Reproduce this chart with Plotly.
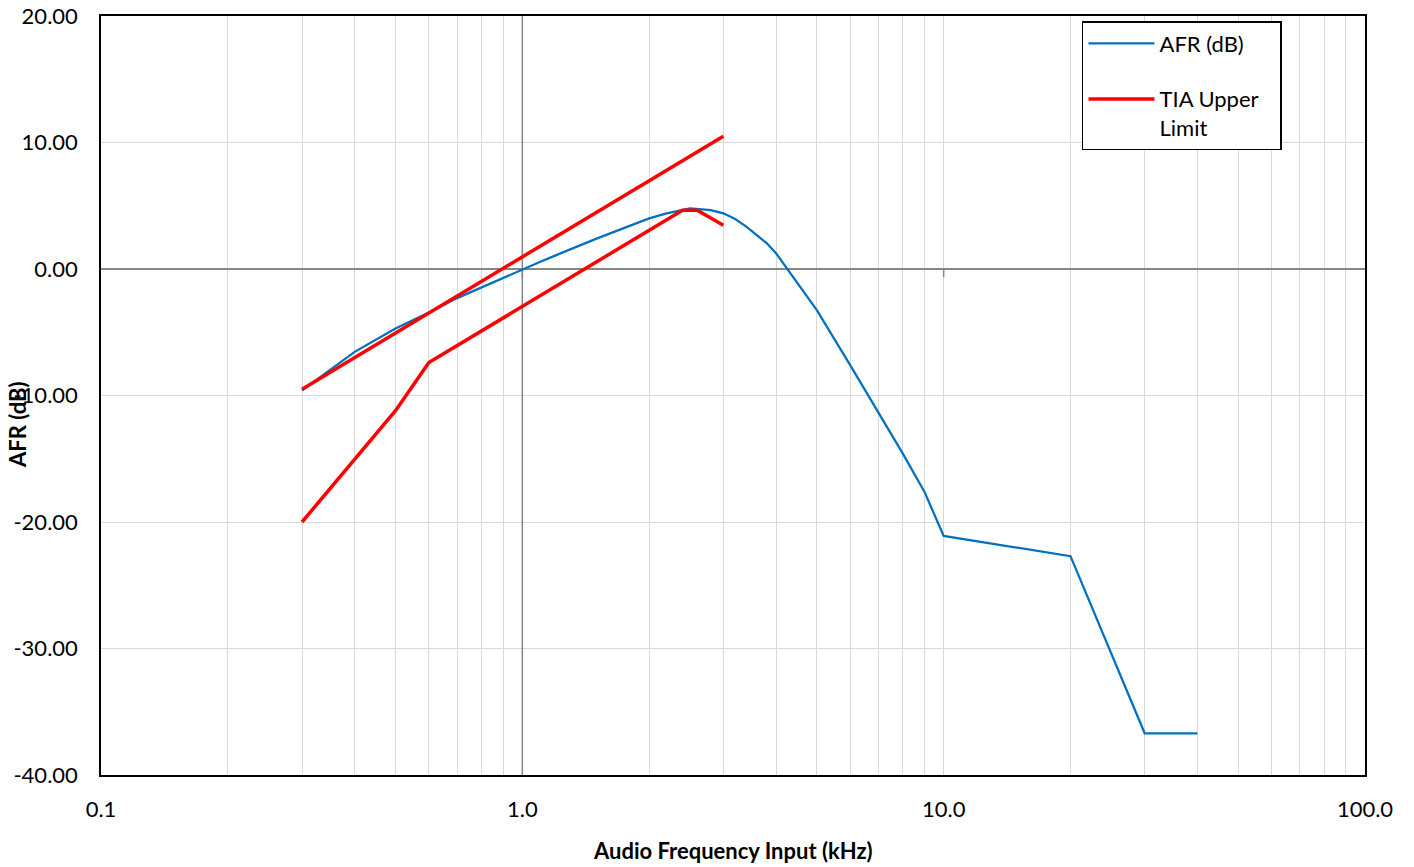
import plotly.graph_objects as go

# ---- data ----
afr_freq = [0.3, 0.4, 0.5, 0.6, 0.7, 0.8, 0.9, 1.0, 1.1, 1.2, 1.5, 2.0, 2.2, 2.5, 2.8, 3.0,
            3.2, 3.4, 3.6, 3.8, 4.0, 5.0, 6.0, 7.0, 8.0, 9.0, 10.0, 20.0, 30.0, 40.0]
afr_db = [-9.6, -6.55, -4.7, -3.45, -2.3, -1.45, -0.7, 0.0, 0.55, 1.08, 2.4, 4.0, 4.4, 4.8, 4.65, 4.4,
          3.95, 3.35, 2.7, 2.05, 1.25, -3.25, -7.6, -11.35, -14.6, -17.6, -21.1, -22.7, -36.7, -36.7]

tia_upper_freq = [0.3, 3.0]
tia_upper_db = [-9.5, 10.5]

tia_lower_freq = [0.3, 0.5, 0.6, 2.4, 2.6, 3.0]
tia_lower_db = [-20.0, -11.2, -7.4, 4.65, 4.65, 3.45]

x_major = [0.1, 1.0, 10.0, 100.0]
x_major_text = ["0.1", "1.0", "10.0", "100.0"]
x_minor = [0.2, 0.3, 0.4, 0.5, 0.6, 0.7, 0.8, 0.9,
           2, 3, 4, 5, 6, 7, 8, 9,
           20, 30, 40, 50, 60, 70, 80, 90]
y_ticks = [20, 10, 0, -10, -20, -30, -40]
y_tick_text = ["20.00", "10.00", "0.00", "-10.00", "-20.00", "-30.00", "-40.00"]

FONT = "Lato"
BLUE = "#0070C0"
RED = "#FF0000"
AXGRAY = "#868686"
GRID = "#D9D9D9"
PAD = "\u00a0" * 3

fig = go.Figure()
fig.add_trace(go.Scatter(x=afr_freq, y=afr_db, mode="lines", name="AFR (dB)",
                         line=dict(color=BLUE, width=2.25), legendgroup="a"))
fig.add_trace(go.Scatter(x=tia_upper_freq, y=tia_upper_db, mode="lines",
                         name="TIA Upper" + PAD + "<br>Limit",
                         line=dict(color=RED, width=3.5), legendgroup="b"))
fig.add_trace(go.Scatter(x=tia_lower_freq, y=tia_lower_db, mode="lines",
                         name="TIA Lower Limit", showlegend=False,
                         line=dict(color=RED, width=3.5), legendgroup="b"))

shapes = []
# vertical value axis crossing at x = 1.0
shapes.append(dict(type="line", xref="x", yref="y", x0=1.0, x1=1.0, y0=y_ticks[-1], y1=y_ticks[0],
                   line=dict(color=AXGRAY, width=1.5), layer="between"))
for yv in y_ticks[1:-1]:
    shapes.append(dict(type="line", xref="x", yref="y", xsizemode="pixel", xanchor=1.0,
                       x0=-8, x1=0, y0=yv, y1=yv,
                       line=dict(color=AXGRAY, width=1.5), layer="between"))
for xv in x_major[1:-1]:
    shapes.append(dict(type="line", xref="x", yref="y", ysizemode="pixel", yanchor=0,
                       x0=xv, x1=xv, y0=0, y1=-8,
                       line=dict(color=AXGRAY, width=1.5), layer="between"))

fig.update_layout(
    width=1414, height=867,
    margin=dict(l=101, r=49, t=16, b=92, autoexpand=False),
    paper_bgcolor="white", plot_bgcolor="white",
    font=dict(family=FONT, size=22, color="black"),
    showlegend=True,
    legend=dict(x=0.7761, y=0.9934, xanchor="left", yanchor="top",
                bordercolor="black", borderwidth=1.5, bgcolor="white",
                font=dict(family=FONT, size=22, color="black"),
                tracegroupgap=24, valign="top", itemwidth=66,
                traceorder="grouped"),
    shapes=shapes,
    xaxis=dict(type="log", range=[-1, 2], tickvals=x_major, ticktext=x_major_text,
               showgrid=True, gridcolor=GRID, gridwidth=1,
               minor=dict(tickvals=x_minor, showgrid=True, gridcolor=GRID, gridwidth=1, ticks=""),
               showline=True, mirror=True, linecolor="black", linewidth=1.5,
               ticks="", ticklabelstandoff=14, zeroline=False, automargin=False,
               tickfont=dict(family=FONT, size=22, color="black")),
    yaxis=dict(range=[-40, 20], tickvals=y_ticks, ticktext=y_tick_text,
               showgrid=True, gridcolor=GRID, gridwidth=1,
               zeroline=True, zerolinecolor=AXGRAY, zerolinewidth=1.5,
               showline=True, mirror=True, linecolor="black", linewidth=1.5,
               ticks="", ticklabelstandoff=17, automargin=False,
               tickfont=dict(family=FONT, size=22, color="black")),
    annotations=[
        dict(text="<b>Audio Frequency Input (kHz)</b>", xref="paper", yref="paper",
             x=0.5, y=-0.1001, xanchor="center", yanchor="middle", showarrow=False,
             font=dict(family=FONT, size=22, color="black")),
        dict(text="<b>AFR (dB)</b>", xref="paper", yref="paper", textangle=-90,
             x=-0.0657, y=0.4625, xanchor="center", yanchor="middle", showarrow=False,
             font=dict(family=FONT, size=22, color="black")),
    ],
)

fig.write_html("out.html", config={"displayModeBar": False},
               post_script="document.body.style.margin='0';")
